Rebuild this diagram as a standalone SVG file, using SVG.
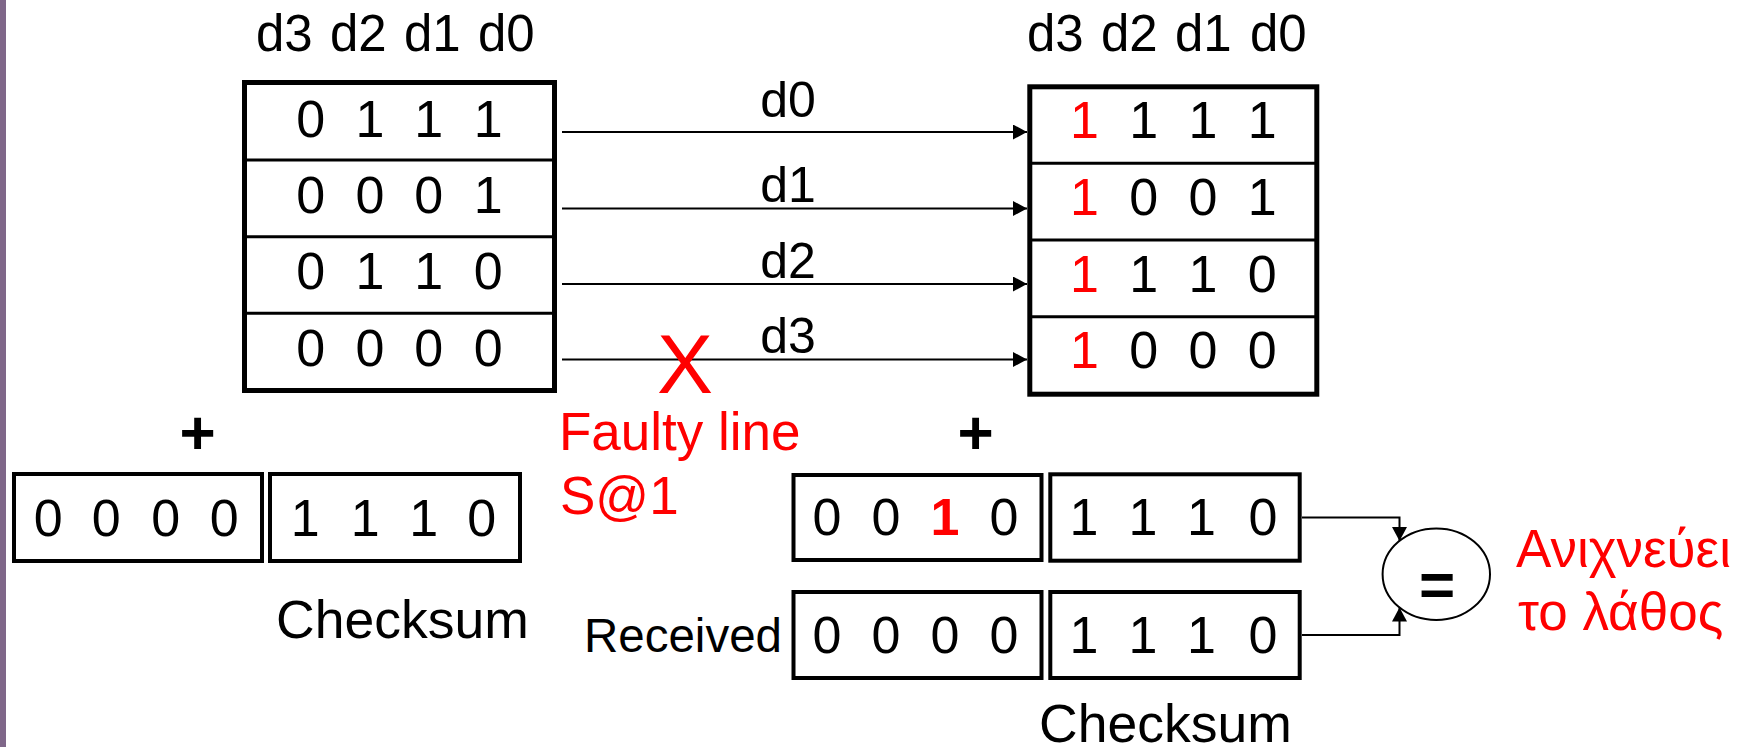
<svg xmlns="http://www.w3.org/2000/svg" width="1744" height="747" viewBox="0 0 1744 747">
  <style>
    text { font-family: "Liberation Sans", Arial, sans-serif; fill: #000; }
    .dig { font-size: 52px; text-anchor: middle; }
    .hdr { font-size: 51px; }
    .lbl { font-size: 50px; text-anchor: middle; }
    .cap { font-size: 53px; }
    .sum { font-size: 53.5px; }
    .red { fill: #ff0000; }
    .bold { font-weight: bold; }
    .op { font-size: 62px; font-weight: bold; text-anchor: middle; }
    .frame { fill: #fff; stroke: #000; stroke-width: 5; }
    .cell { fill: #fff; stroke: #000; stroke-width: 4; }
    .sep { stroke: #000; stroke-width: 3; }
    .wire { fill: none; stroke: #000; stroke-width: 2; }
  </style>
  <defs>
    <marker id="head" markerUnits="userSpaceOnUse" markerWidth="14" markerHeight="15" refX="14" refY="7.5" orient="auto">
      <path d="M0,0 L14,7.5 L0,15 Z" fill="#000"/>
    </marker>
  </defs>

  <rect width="1744" height="747" fill="#fff"/>
  <!-- slide edge strip -->
  <rect x="0" y="0" width="6" height="747" fill="#7f6789"/>

  <!-- connectors -->
  <g id="connectors">
    <line class="wire" x1="562" y1="132" x2="1027" y2="132" marker-end="url(#head)"/>
    <line class="wire" x1="562" y1="208.5" x2="1027" y2="208.5" marker-end="url(#head)"/>
    <line class="wire" x1="562" y1="284" x2="1027" y2="284" marker-end="url(#head)"/>
    <line class="wire" x1="562" y1="359.5" x2="1027" y2="359.5" marker-end="url(#head)"/>
    <path class="wire" d="M1302,517.5 H1399.5 V541" marker-end="url(#head)"/>
    <path class="wire" d="M1302,635 H1399.5 V607.5" marker-end="url(#head)"/>
    <text class="lbl" x="788" y="117">d0</text>
    <text class="lbl" x="788" y="201.5">d1</text>
    <text class="lbl" x="788" y="278">d2</text>
    <text class="lbl" x="788" y="353">d3</text>
  </g>

  <!-- sender data words -->
  <g id="sender-words">
    <text class="hdr"><tspan x="256" y="50.5">d3</tspan><tspan x="330" y="50.5">d2</tspan><tspan x="404" y="50.5">d1</tspan><tspan x="478" y="50.5">d0</tspan></text>
    <rect class="frame" x="244.5" y="82.5" width="310" height="308"/>
    <line class="sep" x1="244.5" y1="160" x2="554.5" y2="160"/>
    <line class="sep" x1="244.5" y1="236.7" x2="554.5" y2="236.7"/>
    <line class="sep" x1="244.5" y1="313.3" x2="554.5" y2="313.3"/>
    <text class="dig" x="310.7 370 428.7 488.3" y="136.7">0111</text>
    <text class="dig" x="310.7 370 428.7 488.3" y="213">0001</text>
    <text class="dig" x="310.7 370 428.7 488.3" y="289.3">0110</text>
    <text class="dig" x="310.7 370 428.7 488.3" y="365.7">0000</text>
  </g>

  <!-- receiver data words -->
  <g id="receiver-words">
    <text class="hdr"><tspan x="1027" y="50.5">d3</tspan><tspan x="1101" y="50.5">d2</tspan><tspan x="1175" y="50.5">d1</tspan><tspan x="1250" y="50.5">d0</tspan></text>
    <rect class="frame" x="1029.8" y="86.8" width="287" height="307.4"/>
    <line class="sep" x1="1029.8" y1="163.3" x2="1316.8" y2="163.3"/>
    <line class="sep" x1="1029.8" y1="240" x2="1316.8" y2="240"/>
    <line class="sep" x1="1029.8" y1="316.7" x2="1316.8" y2="316.7"/>
    <text class="dig" y="138.3"><tspan class="red" x="1084.5">1</tspan><tspan x="1143.7 1203 1262.3">111</tspan></text>
    <text class="dig" y="215"><tspan class="red" x="1084.5">1</tspan><tspan x="1143.7 1203 1262.3">001</tspan></text>
    <text class="dig" y="291.7"><tspan class="red" x="1084.5">1</tspan><tspan x="1143.7 1203 1262.3">110</tspan></text>
    <text class="dig" y="368.3"><tspan class="red" x="1084.5">1</tspan><tspan x="1143.7 1203 1262.3">000</tspan></text>
  </g>

  <!-- stuck-at fault mark -->
  <g id="fault">
    <text class="red" x="685" y="392.5" font-size="84" text-anchor="middle">X</text>
    <text class="cap red" x="559" y="450">Faulty line</text>
    <text class="cap red" x="560" y="513.5">S@1</text>
  </g>

  <!-- sender sum and checksum -->
  <g id="sender-checksum">
    <text class="op" x="197.5" y="453.5">+</text>
    <rect class="cell" x="14" y="474" width="248" height="87"/>
    <rect class="cell" x="270" y="474" width="250" height="87"/>
    <text class="dig" x="48.3 106.3 165.8 224.2" y="536">0000</text>
    <text class="dig" x="305.3 365.3 423.7 481.7" y="536">1110</text>
    <text class="sum" x="276" y="638.3">Checksum</text>
  </g>

  <!-- receiver sum and received checksum -->
  <g id="receiver-checksum">
    <text class="op" x="975.5" y="453.5">+</text>
    <rect class="cell" x="793.5" y="475" width="248" height="85"/>
    <rect class="cell" x="1050.3" y="474.3" width="249.4" height="86.4"/>
    <text class="dig" y="535"><tspan x="827 886">00</tspan><tspan class="red bold" x="945">1</tspan><tspan x="1004">0</tspan></text>
    <text class="dig" x="1084 1143 1201.5 1263" y="535">1110</text>
    <text x="782" y="652" font-size="47.5" text-anchor="end">Received</text>
    <rect class="cell" x="793.5" y="592" width="248" height="86"/>
    <rect class="cell" x="1050.3" y="592" width="249.4" height="86"/>
    <text class="dig" x="827 886 945 1004" y="652.7">0000</text>
    <text class="dig" x="1084 1143 1201.5 1263" y="652.7">1110</text>
    <text class="sum" x="1039" y="742">Checksum</text>
  </g>

  <!-- comparator -->
  <g id="comparator">
    <ellipse cx="1436.3" cy="574.2" rx="53.7" ry="45.8" fill="#fff" stroke="#000" stroke-width="2"/>
    <text class="op" x="1437" y="605.5">=</text>
  </g>

  <!-- result -->
  <g id="result">
    <text class="cap red" x="1516" y="567">Ανιχνεύει</text>
    <text class="cap red" x="1518" y="630">το λάθος</text>
  </g>
</svg>
